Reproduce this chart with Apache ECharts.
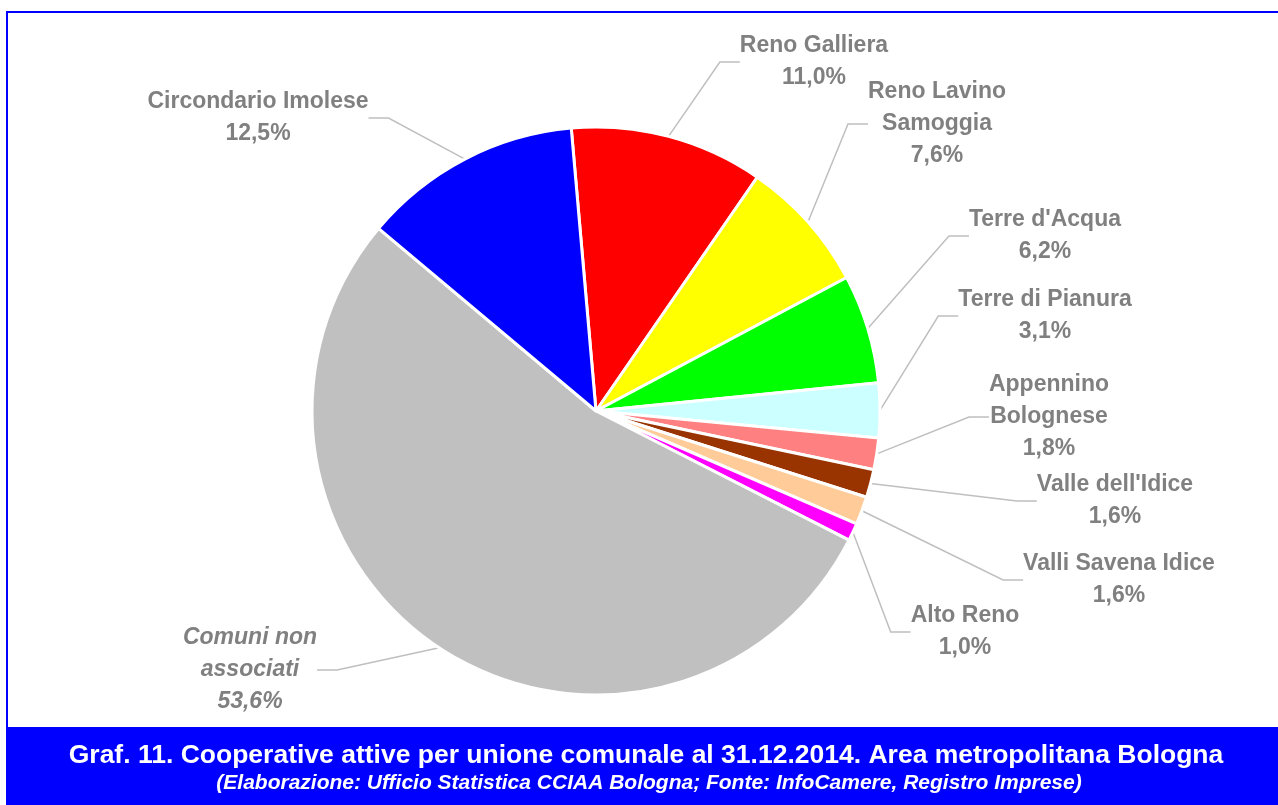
<!DOCTYPE html>
<html>
<head>
<meta charset="utf-8">
<script src="https://cdn.jsdelivr.net/npm/echarts@6/dist/echarts.min.js"></script>
<style>
  html, body { margin: 0; padding: 0; background: #fff; }
  #chart { width: 1278px; height: 805px; }
</style>
</head>
<body>
<div id="chart"></div>
<script>
  // dati (percentuali)
  var categories = [
    "Reno Galliera", "Reno Lavino\nSamoggia", "Terre d'Acqua", "Terre di Pianura",
    "Appennino\nBolognese", "Valle dell'Idice", "Valli Savena Idice", "Alto Reno",
    "Comuni non\nassociati", "Circondario Imolese"
  ];
  var values = [11.0, 7.6, 6.2, 3.1, 1.8, 1.6, 1.6, 1.0, 53.6, 12.5];
  var colors = ["#FF0000", "#FFFF00", "#00FF00", "#CCFFFF", "#FF8080",
                "#993300", "#FFCC99", "#FF00FF", "#C0C0C0", "#0000FF"];
  var titleText = "Graf. 11. Cooperative attive per unione comunale al 31.12.2014. Area metropolitana Bologna";
  var subText = "(Elaborazione: Ufficio Statistica CCIAA Bologna; Fonte: InfoCamere, Registro Imprese)";

  // posizione etichette (centro del blocco di testo)
  var labelPos = [
    [814, 62], [937, 124], [1045, 236], [1045, 316], [1049, 417],
    [1115, 501], [1119, 580], [965, 632], [250, 670], [258, 118]
  ];

  var mychart = echarts.init(document.getElementById("chart"));

  var pieData = values.map(function (v, i) {
    var item = { name: categories[i], value: v, itemStyle: { color: colors[i] } };
    if (i == 8) {
      item.label = { fontStyle: "italic" };
    }
    return item;
  });

  var option = {
    animation: false,
    graphic: [
      {
        type: "rect",
        shape: { x: 7, y: 12, width: 1290, height: 720 },
        style: { fill: "none", stroke: "#0000FF", lineWidth: 2 },
        z: 0
      },
      {
        type: "rect",
        shape: { x: 6, y: 727, width: 1290, height: 80 },
        style: { fill: "#0000FF" },
        z: 1
      },
      {
        type: "text",
        x: 646, y: 756,
        style: {
          text: titleText, fill: "#fff", align: "center", verticalAlign: "middle",
          font: "bold 26.5px 'Liberation Sans', Arial, sans-serif"
        },
        z: 2
      },
      {
        type: "text",
        x: 649, y: 783,
        style: {
          text: subText, fill: "#fff", align: "center", verticalAlign: "middle",
          font: "italic bold 21px 'Liberation Sans', Arial, sans-serif"
        },
        z: 2
      }
    ],
    series: [
      {
        type: "pie",
        center: [596, 411],
        radius: 284,
        startAngle: 95,
        clockwise: true,
        avoidLabelOverlap: false,
        itemStyle: { borderColor: "#fff", borderWidth: 3 },
        label: {
          show: true,
          position: "outside",
          color: "#808080",
          fontFamily: "'Liberation Sans', Arial, sans-serif",
          fontWeight: "bold",
          fontSize: 23,
          lineHeight: 32,
          align: "center",
          formatter: function (p) {
            return p.name + "\n" + p.value.toFixed(1).replace(".", ",") + "%";
          }
        },
        labelLine: {
          show: true,
          length: 20,
          length2: 20,
          lineStyle: { color: "#BFBFBF", width: 1.5 }
        },
        labelLayout: function (params) {
          var pos = labelPos[params.dataIndex];
          return { x: pos[0], y: pos[1], align: "center", verticalAlign: "middle" };
        },
        data: pieData
      }
    ]
  };

  mychart.setOption(option);
</script>
</body>
</html>
